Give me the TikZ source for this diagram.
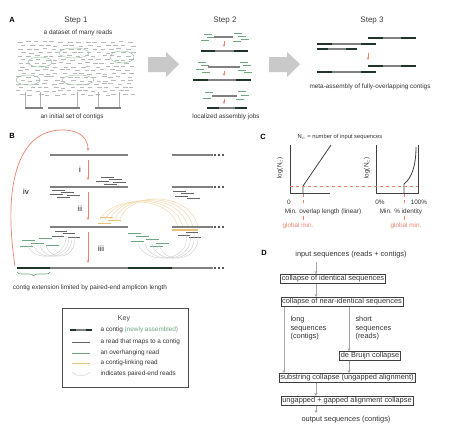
\documentclass[tikz,border=0pt]{standalone}
\usepackage{fontspec}
\setmainfont{Liberation Sans}
\usetikzlibrary{arrows.meta,decorations.pathreplacing,positioning}

\definecolor{darkbar}{HTML}{1E3527}
\definecolor{midbar}{HTML}{808080}
\definecolor{readgreen}{HTML}{6FA77E}
\definecolor{arrowred}{HTML}{E8836E}
\definecolor{linkorange}{HTML}{EDC07A}
\definecolor{blockgray}{HTML}{C9C9C9}

% contig bar with dark (newly assembled) ends
\newcommand{\asmbar}[4]{%
  \draw[midbar, line width=1.8pt] (#1,#3) -- (#2,#3);
  \draw[darkbar, line width=1.8pt] (#1,#3) -- ++(#4,0);
  \draw[darkbar, line width=1.8pt] (#2,#3) -- ++(-#4,0);}
% dotted tail of a contig in panel B
\newcommand{\bdots}[1]{%
  \foreach \dx in {215,219,223} \fill[midbar!70!black] (\dx-1,#1-1) rectangle ++(2,2);}
% big block arrow between the steps, left end x
\newcommand{\blockarrow}[1]{%
  \fill[blockgray] (#1,57) -- ++(18,0) -- ++(0,-5) -- ++(13,12) -- ++(-13,13)
    -- ++(0,-5) -- ++(-18,0) -- cycle;}

\tikzset{
  panel/.style={font=\bfseries\fontsize{7.5}{8}\selectfont},
  stepttl/.style={font=\fontsize{8}{9}\selectfont, text=black!75},
  tinytext/.style={font=\fontsize{6.4}{7.2}\selectfont, text=black!80},
  romanlbl/.style={font=\bfseries\fontsize{7.5}{8}\selectfont, text=black!70},
  readgray/.style={gray!55, line width=0.6pt},
  readline/.style={black!60, line width=0.6pt},
  ovhread/.style={readgreen, line width=0.6pt},
  linkread/.style={linkorange, line width=0.8pt},
  pairarc/.style={gray!40, line width=0.4pt},
  linkarc/.style={linkorange!60, line width=0.5pt},
  redarrow/.style={arrowred, line width=0.7pt, -{Stealth[length=3pt,width=2.5pt]}},
  flowbox/.style={draw=black!75, line width=0.6pt, inner sep=1.2pt,
    font=\fontsize{7.4}{8.5}\selectfont, text=black!80},
  flowtext/.style={font=\fontsize{7.4}{8.5}\selectfont, text=black!80},
  flowarrow/.style={gray!70, line width=0.8pt, -{Stealth[length=3pt,width=3pt]}},
}

\begin{document}
\begin{tikzpicture}[x=1pt,y=-1pt]
\useasboundingbox (0,0) rectangle (449,434);

% ---------------- A ----------------
\node[panel] (labA) at (12,20) {A};
\node[stepttl] (st1) at (76,21) {Step 1};
\node[tinytext] (dsA) at (78,33) {a dataset of many reads};
\pgfmathsetseed{11}
\foreach \r in {0,...,15}{
  \foreach \c in {0,...,13}{
    \pgfmathsetmacro{\rx}{17+\c*8.4+mod(\r,2)*3.5+rand*2}
    \pgfmathsetmacro{\ry}{42+\r*3.5+rand*0.7}
    \draw[readgray] (\rx,\ry) -- ++(4.5,0);
  }
}
\foreach \ex/\ey/\ea/\eb in {40/62/12/5, 74/53/15/5, 122/57/12/6, 28/80/12/5, 78/80/16/5}
  \draw[readgreen!70, line width=0.5pt] (\ex,\ey) ellipse (\ea pt and \eb pt);
\foreach \vx in {25,40,77,98,119}
  \draw[gray!60, line width=0.5pt] (\vx,92) -- (\vx,108);
\draw[midbar, line width=2.2pt] (25,108) -- (43,108);
\draw[midbar, line width=2.2pt] (48,108) -- (80,108);
\draw[midbar, line width=2.2pt] (95,108) -- (121,108);
\node[tinytext] (icA) at (72,117) {an initial set of contigs};

\blockarrow{148}
\blockarrow{269}

% step 2
\node[stepttl] (st2) at (225,21) {Step 2};
\draw[midbar, line width=1.8pt] (214,37) -- (233,37);
\foreach \x/\y in {204/34,207/37,201/40,234/33,238/36,241/39,233/41}
  \draw[ovhread] (\x,\y) -- ++(8,0);
\draw[redarrow] (224,41) -- (224,47);
\asmbar{201}{248}{51}{14}
\draw[midbar, line width=1.8pt] (208,67) -- (240,67);
\foreach \x/\y in {198/62,201/65,196/69,202/72,240/62,243/65,238/70,244/72}
  \draw[ovhread] (\x,\y) -- ++(8,0);
\draw[redarrow] (224,71) -- (224,76);
\asmbar{193}{251}{80}{15}
\draw[midbar, line width=1.8pt] (212,96) -- (237,96);
\foreach \x/\y in {205/92,203/98,238/91,241/95,236/99}
  \draw[ovhread] (\x,\y) -- ++(8,0);
\draw[redarrow] (224,99) -- (224,104);
\asmbar{207}{247}{108}{12}
\node[tinytext] (ljA) at (226,117) {localized assembly jobs};

% step 3
\node[stepttl] (st3) at (372,21) {Step 3};
\asmbar{368}{416}{38}{15}
\asmbar{317}{376}{44}{15}
\asmbar{317}{357}{49}{11}
\draw[redarrow] (368,53) -- (368,60);
\asmbar{368}{416}{66}{15}
\asmbar{317}{376}{72}{15}
\node[tinytext] (maA) at (370,87) {meta-assembly of fully-overlapping contigs};

% ---------------- B ----------------
\node[panel] (labB) at (12,136) {B};
\draw[redarrow] (15,266) .. controls (2,180) and (20,128) .. (65,130)
  .. controls (82,131) and (88,140) .. (88,151);
\node[romanlbl] (liv) at (26,192) {iv};
% row 1
\draw[midbar, line width=2.2pt] (50,155) -- (128,155);
\draw[midbar, line width=2.2pt] (172,155) -- (213,155); \bdots{155}
\draw[redarrow] (88,160) -- (88,180);
\node[romanlbl] (li) at (80,170) {i};
% row 2
\draw[midbar, line width=2.2pt] (50,187) -- (128,187);
\draw[midbar, line width=2.2pt] (172,187) -- (213,187); \bdots{187}
\foreach \x/\y in {101/177,109/179,96/181,113/182,104/184,52/190,61/192,50/194,67/195,57/197,
  173/191,181/193,175/196,187/198}
  \draw[readline] (\x,\y) -- ++(13,0);
\draw[redarrow] (88,192) -- (88,220);
\node[romanlbl] (lii) at (80,209) {ii};
% row 3
\foreach \s in {0,...,4}
  \draw[linkarc] (100+\s*5,219) .. controls (115+\s*4,194-\s) and (172+\s*5,196-\s) .. (178+\s*5,228);
\draw[midbar, line width=2.2pt] (50,227) -- (128,227);
\draw[midbar, line width=2.2pt] (172,227) -- (213,227); \bdots{227}
\draw[linkorange, line width=2pt] (172,230) -- (198,230);
\foreach \x/\y in {100/217,108/220,98/223}
  \draw[linkread] (\x,\y) -- ++(13,0);
\foreach \x/\y in {55/231,63/233,52/236,68/237,186/232,178/235,189/237}
  \draw[readline] (\x,\y) -- ++(12,0);
\foreach \x/\y in {22/240,31/243,39/238,20/246,46/245,128/233,136/236,146/239,131/241,156/243,150/246}
  \draw[ovhread] (\x,\y) -- ++(13,0);
\foreach \s in {0,...,3}{
  \draw[pairarc] (28+\s*6,246) .. controls (34+\s*6,262) and (68+\s*3,260) .. (66+\s*3,234);
  \draw[pairarc] (138+\s*7,244) .. controls (146+\s*6,266) and (192+\s*3,262) .. (186+\s*4,234);
}
\draw[redarrow] (88,232) -- (88,263);
\node[romanlbl] (liii) at (101,249) {iii};
% row 4
\draw[midbar, line width=2.2pt] (17,268) -- (213,268); \bdots{268}
\draw[darkbar, line width=2.2pt] (17,268) -- (50,268);
\draw[darkbar, line width=2.2pt] (128,268) -- (172,268);
\draw[decorate, decoration={brace, amplitude=4pt}, readgreen, line width=0.6pt] (50,272) -- (17,272);
\node[tinytext] (ceB) at (90,288) {contig extension limited by paired-end amplicon length};

% key
\draw[black!70, line width=0.6pt] (62,308) rectangle (188,387);
\node[font=\fontsize{7}{8}\selectfont, text=black!75] (keyT) at (124,319) {Key};
\asmbar{70}{92}{330}{6}
\node[tinytext, anchor=west] (k1) at (97,330) {a contig \textcolor{readgreen}{(newly assembled)}};
\draw[readline] (72,342) -- (90,342);
\node[tinytext, anchor=west] (k2) at (97,342) {a read that maps to a contig};
\draw[ovhread] (72,353) -- (90,353);
\node[tinytext, anchor=west] (k3) at (97,353) {an overhanging read};
\draw[linkread] (72,363) -- (90,363);
\node[tinytext, anchor=west] (k4) at (97,363) {a contig-linking read};
\draw[pairarc] (72,372) .. controls (76,377) and (86,377) .. (90,372);
\node[tinytext, anchor=west] (k5) at (97,374) {indicates paired-end reads};

% ---------------- C ----------------
\node[panel] (labC) at (263,137) {C};
\node[font=\fontsize{5.8}{6.5}\selectfont, text=black!80] (ncC) at (340,137) {N$_c$ = number of input sequences};
\draw[black!75, line width=0.8pt] (290,145) -- (290,193) -- (330,193);
\draw[black!75, line width=0.8pt] (303,193) -- (303,186) -- (331,145);
\draw[black!75, line width=0.8pt] (376,145) -- (376,193) -- (418,193) -- (418,145);
\draw[black!75, line width=0.8pt] (404,193) -- (404,184) .. controls (412,178) and (416,165) .. (416,147);
\draw[arrowred, dashed, line width=0.6pt] (290,186) -- (418,186);
\draw[arrowred, dashed, line width=0.6pt] (303,194) -- (303,206);
\draw[arrowred, dashed, line width=0.6pt] (404,194) -- (404,206);
\draw[arrowred, line width=0.6pt] (303,216) -- (303,220);
\draw[arrowred, line width=0.6pt] (404,216) -- (404,220);
\node[tinytext, rotate=90] (ylC1) at (280,168) {log(N$_c$)};
\node[tinytext, rotate=90] (ylC2) at (367,168) {log(N$_c$)};
\node[tinytext] (z1) at (289,202) {0};
\node[tinytext] (z2) at (380,202) {0\%};
\node[tinytext] (z3) at (419,202) {100\%};
\node[tinytext] (xlC1) at (323,212) {Min. overlap length (linear)};
\node[tinytext] (xlC2) at (401,212) {Min. \% identity};
\node[tinytext, text=arrowred] (gm1) at (298,226) {global min.};
\node[tinytext, text=arrowred] (gm2) at (406,226) {global min.};

% ---------------- D ----------------
\node[panel] (labD) at (264,253) {D};
\node[flowtext] (din) at (351,255) {input sequences (reads + contigs)};
\node[flowbox] (d1) at (333,279) {collapse of identical sequences};
\node[flowbox] (d2) at (342,302) {collapse of near-identical sequences};
\node[flowtext, align=left, anchor=north west] (dlong) at (287,313) {long\\sequences\\(contigs)};
\node[flowtext, align=left, anchor=north west] (dshort) at (352,313) {short\\sequences\\(reads)};
\node[flowbox] (d3) at (370,356) {de Bruijn collapse};
\node[flowbox] (d4) at (347,378) {substring collapse (ungapped alignment)};
\node[flowbox] (d5) at (347,401) {ungapped + gapped alignment collapse};
\node[flowtext] (dout) at (346,420) {output sequences (contigs)};
\coordinate (cx1) at (316,0);
\coordinate (cxl) at (284,0);
\coordinate (cxs) at (349,0);
\draw[flowarrow] (din.south -| cx1) -- (d1.north -| cx1);
\draw[flowarrow] (d1.south -| cx1) -- (d2.north -| cx1);
\draw[flowarrow] (d2.south -| cxl) -- (d4.north -| cxl);
\draw[flowarrow] (d2.south -| cxs) -- (d3.north -| cxs);
\draw[flowarrow] (d3.south -| cxs) -- (d4.north -| cxs);
\draw[flowarrow] (d4.south -| cx1) -- (d5.north -| cx1);
\draw[flowarrow] (d5.south -| cx1) -- (dout.north -| cx1);
\end{tikzpicture}
\end{document}
